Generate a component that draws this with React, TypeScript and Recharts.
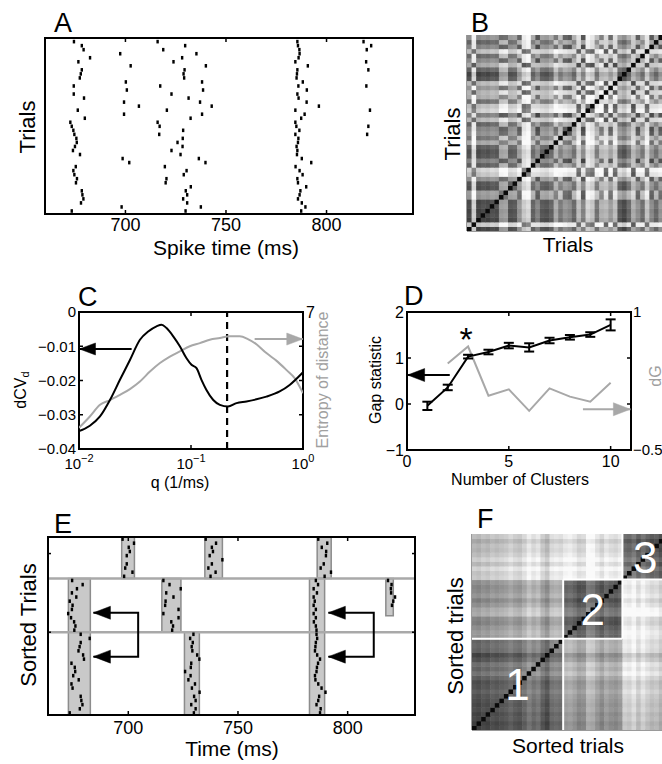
import React from 'react';
import { ComposedChart, Scatter, Line, XAxis, YAxis, ReferenceArea, ReferenceLine, ErrorBar } from 'recharts';

const FONT = '"Liberation Sans", Arial, Helvetica, sans-serif';
const W = 662;
const H = 764;
const GRAY = '#a8a8a8';

// ---------------- DATA ----------------
// Panel A: spike times per trial (index 0 = bottom trial)
const spikeTicks = [700, 750, 800];
const trialSpikes: number[][] = [
  [673.3, 729.9, 787.4],
  [698.1, 737.5, 789.5],
  [677.9, 730.7, 787.7],
  [679.1, 728.7, 785.8],
  [678.6, 730.7, 786.6],
  [678.3, 730.0, 787.0],
  [732.5, 789.9],
  [675.4, 720.0, 785.8],
  [675.9, 720.4, 785.5],
  [674.6, 729.0, 788.1],
  [674.1, 730.4, 786.6],
  [675.3, 719.6, 784.6],
  [701.9, 739.8, 792.4],
  [698.6, 736.5, 787.7],
  [677.4, 727.4, 785.3],
  [673.9, 722.9, 785.5],
  [674.9, 728.4, 785.1],
  [675.8, 725.9, 785.8],
  [675.6, 728.5, 786.0],
  [674.6, 716.8, 784.5, 820.2],
  [674.1, 728.7, 786.5],
  [673.3, 717.0, 785.0, 820.8],
  [672.6, 716.0, 784.5],
  [679.8, 732.4, 787.4],
  [699.3, 738.1, 789.1],
  [676.3, 720.6, 784.5, 821.6],
  [706.7, 742.9, 796.2],
  [699.3, 737.1, 790.1],
  [679.4, 731.4, 786.1],
  [674.3, 722.9, 785.5],
  [700.7, 738.6, 790.2],
  [674.3, 717.3, 786.0, 819.8],
  [700.2, 738.1, 788.2],
  [677.3, 729.2, 785.1],
  [677.8, 728.9, 785.3],
  [678.3, 729.4, 785.5, 820.8],
  [702.6, 740.0, 790.7],
  [676.6, 723.9, 784.5, 819.7],
  [682.4, 728.2, 786.1],
  [697.4, 735.3, 786.6],
  [679.2, 718.8, 786.5, 820.0],
  [678.3, 729.7, 785.8, 822.2],
  [674.4, 716.0, 785.5, 818.4],
];

// Cluster membership (trial indices), in sorted order bottom -> top
const cluster1Trials = [0, 2, 3, 4, 5, 6, 9, 10, 14, 16, 17, 18, 20, 23, 28, 33, 34, 35, 38, 41];
const cluster2Trials = [7, 8, 11, 15, 22, 29, 19, 21, 25, 31, 37, 40, 42];
const cluster3Trials = [1, 12, 13, 24, 26, 27, 30, 32, 36, 39];

// Panel C
const qTicks = [0.01, 0.1, 1];
const dcvQ = [0.01, 0.0125, 0.0154, 0.0189, 0.0232, 0.0285, 0.035, 0.0415, 0.0492, 0.0545, 0.0605, 0.0694, 0.0795, 0.0912, 0.101, 0.112, 0.124, 0.137, 0.158, 0.181, 0.214, 0.255, 0.313, 0.384, 0.471, 0.619, 0.76, 1.0];
const dcvValues = [-0.0348, -0.0332, -0.0305, -0.0257, -0.0198, -0.014, -0.0081, -0.0057, -0.0042, -0.0037, -0.0047, -0.0071, -0.01, -0.0135, -0.0154, -0.0164, -0.0198, -0.0227, -0.0257, -0.0271, -0.0276, -0.0266, -0.0261, -0.0255, -0.0247, -0.0232, -0.0213, -0.0176];
const entropyQ = [0.01, 0.0125, 0.0154, 0.0189, 0.0232, 0.0285, 0.035, 0.043, 0.0528, 0.0648, 0.0795, 0.0976, 0.12, 0.147, 0.181, 0.222, 0.272, 0.322, 0.384, 0.471, 0.578, 0.71, 0.842, 1.0];
const entropyValues = [3.62, 3.95, 4.29, 4.43, 4.58, 4.75, 4.97, 5.26, 5.51, 5.7, 5.85, 6.0, 6.09, 6.19, 6.24, 6.29, 6.29, 6.21, 6.06, 5.8, 5.58, 5.31, 5.07, 4.63];
const chosenQ = 0.21;

// Panel D
const clusterCounts = [1, 2, 3, 4, 5, 6, 7, 8, 9, 10];
const gapValues = [-0.04, 0.36, 1.03, 1.13, 1.27, 1.23, 1.38, 1.45, 1.51, 1.72];
const gapErrors = [0.09, 0.06, 0.04, 0.05, 0.06, 0.09, 0.06, 0.05, 0.05, 0.12];
const dGCounts = [2, 3, 4, 5, 6, 7, 8, 9, 10];
const dGValues = [0.44, 0.625, 0.09, 0.16, -0.075, 0.17, 0.08, 0.025, 0.23];

// Panel E: event windows (ms) per cluster group
const eventWindows = [
  { t0: 697.0, t1: 702.8, clusters: [3] },
  { t0: 734.9, t1: 742.9, clusters: [3] },
  { t0: 786.1, t1: 792.5, clusters: [3] },
  { t0: 672.7, t1: 682.7, clusters: [1, 2] },
  { t0: 782.6, t1: 789.5, clusters: [1, 2] },
  { t0: 715.3, t1: 724.0, clusters: [2] },
  { t0: 817.4, t1: 820.8, clusters: [2], rows: [23.5, 32.5] },
  { t0: 725.6, t1: 732.4, clusters: [1] },
];

// Similarity matrices: gray level per cluster pair and per-trial tone
const blockTone = [
  [100, 155, 195],
  [155, 90, 215],
  [195, 215, 80],
];
const trialTone = [-15, 20, -20, -10, -15, -5, -10, 10, 15, -5, 0, 5, 15, 30, 10, -10, 0, -5, 10, 25, 30, 5, -5, 15, 5, -10, 25, 10, 25, 30, 0, 10, 5, 0, -15, 15, -10, 0, 20, 10, -5, 15, 5];

// ---------------- DERIVED ----------------
const clusterLists = [cluster1Trials, cluster2Trials, cluster3Trials];
const sortedTrials = [...cluster1Trials, ...cluster2Trials, ...cluster3Trials];
const nTrials = trialSpikes.length;
const clusterOf: number[] = [];
clusterLists.forEach((list, ci) => list.forEach((t) => { clusterOf[t] = ci + 1; }));
const eRowOf: number[] = [];
sortedTrials.forEach((t, row) => { eRowOf[t] = row; });
const clusterRows: number[][] = [];
{
  let start = -0.5;
  clusterLists.forEach((l) => { clusterRows.push([start, start + l.length]); start += l.length; });
}

const spikePointsA = trialSpikes.flatMap((ts, trial) => ts.map((t) => ({ t, trial })));
const spikePointsE: { t: number; y: number }[] = [];
trialSpikes.forEach((ts, trial) => ts.forEach((t) => {
  const c = clusterOf[trial];
  if (eventWindows.some((w) => w.clusters.includes(c) && t >= w.t0 - 1 && t <= w.t1 + 1)) {
    spikePointsE.push({ t, y: eRowOf[trial] });
  }
}));

const level = (i: number, j: number) => {
  if (i === j) return 10;
  const v = blockTone[clusterOf[i] - 1][clusterOf[j] - 1] + 1.1 * (trialTone[i] + trialTone[j]);
  return Math.round(Math.max(0, Math.min(250, v)));
};
const matrixB: { x: number; y: number; v: number }[] = [];
const matrixF: { x: number; y: number; v: number }[] = [];
for (let i = 0; i < nTrials; i++) {
  for (let j = 0; j < nTrials; j++) {
    matrixB.push({ x: j, y: i, v: level(i, j) });
    matrixF.push({ x: j, y: i, v: level(sortedTrials[i], sortedTrials[j]) });
  }
}
const clusterLabels = clusterLists.map((l, ci) => {
  const c = (clusterRows[ci][0] + clusterRows[ci][1]) / 2;
  return { x: c, y: c, label: String(ci + 1) };
});

const dcvData = dcvQ.map((q, i) => ({ q, v: dcvValues[i] }));
const entropyData = entropyQ.map((q, i) => ({ q, e: entropyValues[i] }));
const gapData = clusterCounts.map((k, i) => ({ k, g: gapValues[i], err: gapErrors[i] }));
const dGData = dGCounts.map((k, i) => ({ k, d: dGValues[i] }));

// ---------------- HELPERS ----------------
// every chart has four 1px axes; margins put the plot box at L..R, T..B
const m = (L: number, R: number, T: number, B: number, w = W) => ({ left: L - 1, right: w - R - 1, top: T - 1, bottom: H - B - 1 });
const ax: any = { tickSize: 0, tickMargin: 0, tickLine: false, axisLine: false, allowDataOverflow: true, interval: 0, type: 'number' };

const tk = (side: string, len: number, label?: (v: number) => any, fs = 16, off = 0) => (p: any) => {
  const v = p.payload.value;
  const x = p.x;
  const y = p.y;
  let l: number[] = [x, y, x, y];
  let txt: any = null;
  const lab = label ? label(v) : null;
  if (side === 'bottom') {
    l = [x, y, x, y - len];
    if (lab !== null) txt = <text x={x} y={y + off} textAnchor="middle" fontSize={fs} fontFamily={FONT} fill="#000">{lab}</text>;
  } else if (side === 'top') {
    l = [x, y, x, y + len];
  } else if (side === 'left') {
    l = [x, y, x + len, y];
    if (lab !== null) txt = <text x={x - off} y={y} dy="0.36em" textAnchor="end" fontSize={fs} fontFamily={FONT} fill="#000">{lab}</text>;
  } else {
    l = [x, y, x - len, y];
    if (lab !== null) txt = <text x={x + off} y={y} dy="0.36em" textAnchor="start" fontSize={fs} fontFamily={FONT} fill="#000">{lab}</text>;
  }
  return (
    <g>
      {len > 0 && <line x1={l[0]} y1={l[1]} x2={l[2]} y2={l[3]} stroke="#000" strokeWidth={1.5} />}
      {txt}
    </g>
  );
};

const arrowDot = (dir: 'left' | 'right', color: string, len: number, half: number, heads: number[]) => (p: any) => {
  if (!heads.includes(p.index) || p.cx == null) return <g key={`a${p.index}`} />;
  const s = dir === 'left' ? 1 : -1;
  const pts = `${p.cx},${p.cy} ${p.cx + s * len},${p.cy - half} ${p.cx + s * len},${p.cy + half}`;
  return <polygon key={`a${p.index}`} points={pts} fill={color} stroke={color} strokeWidth={0.5} />;
};

const spikeShape = (p: any) => <rect x={p.cx - 1.2} y={p.cy - 1.8} width={2.4} height={3.6} fill="#000" />;
const cellPx = 196 / 43;
const matrixShape = (p: any) => {
  const v = p.payload.v;
  return <rect x={p.cx - cellPx / 2} y={p.cy - cellPx / 2} width={cellPx + 0.5} height={cellPx + 0.5} fill={`rgb(${v},${v},${v})`} />;
};
const numberShape = (p: any) => (
  <text x={p.cx} y={p.cy} dy="0.36em" textAnchor="middle" fontSize={44} fontFamily={FONT} fill="#fff">{p.payload.label}</text>
);

const abs = (el: any) => <div style={{ position: 'absolute', left: 0, top: 0 }}>{el}</div>;
const minus = (v: number, d: number) => (v < 0 ? `\u2212${Math.abs(v).toFixed(d)}` : v.toFixed(d));

// ---------------- PANELS ----------------
function PanelA() {
  const dom = [660, 843];
  const ydom = [-0.75, 42.9];
  return (
    <ComposedChart width={W} height={H} margin={m(45, 413, 38, 214)}>
      <XAxis {...ax} xAxisId="b" dataKey="t" domain={dom} height={1} ticks={spikeTicks} tick={tk('bottom', 4, (v) => String(v), 18, 17)} />
      <XAxis {...ax} xAxisId="t" orientation="top" dataKey="t" domain={dom} height={1} ticks={spikeTicks} tick={tk('top', 4)} />
      <YAxis {...ax} yAxisId="l" dataKey="trial" domain={ydom} width={1} tick={false} />
      <YAxis {...ax} yAxisId="r" orientation="right" dataKey="trial" domain={ydom} width={1} tick={false} />
      <ReferenceArea xAxisId="b" yAxisId="l" x1={dom[0]} x2={dom[1]} y1={ydom[0]} y2={ydom[1]} fill="none" stroke="#000" strokeWidth={2} />
      <Scatter xAxisId="b" yAxisId="l" data={spikePointsA} shape={spikeShape} isAnimationActive={false} />
    </ComposedChart>
  );
}

function MatrixPanel({ data, L, T }: { data: any[]; L: number; T: number }) {
  const dom = [-0.5, nTrials - 0.5];
  return (
    <ComposedChart width={700} height={H} margin={m(L, L + 196, T, T + 196, 700)}>
      <XAxis {...ax} xAxisId="b" dataKey="x" domain={dom} height={1} tick={false} />
      <XAxis {...ax} xAxisId="t" orientation="top" dataKey="x" domain={dom} height={1} tick={false} />
      <YAxis {...ax} yAxisId="l" dataKey="y" domain={dom} width={1} tick={false} />
      <YAxis {...ax} yAxisId="r" orientation="right" dataKey="y" domain={dom} width={1} tick={false} />
      <Scatter xAxisId="b" yAxisId="l" data={data} shape={matrixShape} isAnimationActive={false} />
      <ReferenceLine xAxisId="b" yAxisId="l" segment={[{ x: dom[0], y: dom[0] }, { x: dom[1], y: dom[0] }]} stroke="#9a9a9a" strokeWidth={2} />
      <ReferenceLine xAxisId="b" yAxisId="l" segment={[{ x: dom[0], y: dom[0] }, { x: dom[0], y: dom[1] }]} stroke="#9a9a9a" strokeWidth={2} />
    </ComposedChart>
  );
}

function FOverlay() {
  const dom = [-0.5, nTrials - 0.5];
  const b1 = clusterRows[0][1];
  const b2 = clusterRows[1][1];
  const lo = dom[0];
  const hi = dom[1];
  const segs = [
    [{ x: b1, y: lo }, { x: b1, y: b2 }],
    [{ x: lo, y: b1 }, { x: b2, y: b1 }],
    [{ x: b2, y: b1 }, { x: b2, y: hi }],
    [{ x: b1, y: b2 }, { x: hi, y: b2 }],
  ];
  return (
    <ComposedChart width={700} height={H} margin={m(472, 668, 534, 730, 700)}>
      <XAxis {...ax} xAxisId="b" dataKey="x" domain={dom} height={1} tick={false} />
      <XAxis {...ax} xAxisId="t" orientation="top" dataKey="x" domain={dom} height={1} tick={false} />
      <YAxis {...ax} yAxisId="l" dataKey="y" domain={dom} width={1} tick={false} />
      <YAxis {...ax} yAxisId="r" orientation="right" dataKey="y" domain={dom} width={1} tick={false} />
      {segs.map((s, i) => (
        <ReferenceLine key={i} xAxisId="b" yAxisId="l" segment={s} stroke="#fff" strokeWidth={2} />
      ))}
      <Scatter xAxisId="b" yAxisId="l" data={clusterLabels} shape={numberShape} isAnimationActive={false} />
    </ComposedChart>
  );
}

const logLabel = (v: number) => {
  const e = Math.round(Math.log10(v));
  return (
    <>
      <tspan>10</tspan>
      <tspan dy={-7} fontSize={11}>{e < 0 ? `\u2212${-e}` : String(e)}</tspan>
    </>
  );
};

function PanelC() {
  const xd = [0.01, 1];
  return (
    <ComposedChart width={W} height={H} margin={m(79, 303, 312, 449)}>
      <XAxis {...ax} xAxisId="b" dataKey="q" scale="log" domain={xd} height={1} ticks={qTicks} tick={tk('bottom', 4, logLabel, 15, 20)} />
      <XAxis {...ax} xAxisId="t" orientation="top" dataKey="q" scale="log" domain={xd} height={1} ticks={qTicks} tick={tk('top', 4)} />
      <YAxis {...ax} yAxisId="l" domain={[-0.04, 0]} width={1} ticks={[-0.04, -0.03, -0.02, -0.01, 0]} tick={tk('left', 4, (v) => (v === 0 ? '0' : minus(v, 2)), 15, 3)} />
      <YAxis {...ax} yAxisId="r" orientation="right" domain={[3, 7]} width={1} ticks={[4, 5, 6, 7]} tick={tk('right', 4, (v) => (v === 7 ? '7' : null), 16, 3)} />
      <ReferenceArea xAxisId="b" yAxisId="l" x1={xd[0]} x2={xd[1]} y1={-0.04} y2={0} fill="none" stroke="#000" strokeWidth={2} />
      <ReferenceLine xAxisId="b" yAxisId="l" x={chosenQ} stroke="#000" strokeWidth={2.2} strokeDasharray="7 5" />
      <Line xAxisId="b" yAxisId="r" data={entropyData} dataKey="e" type="monotone" stroke={GRAY} strokeWidth={2} dot={false} activeDot={false} isAnimationActive={false} />
      <Line xAxisId="b" yAxisId="l" data={dcvData} dataKey="v" type="monotone" stroke="#000" strokeWidth={2} dot={false} activeDot={false} isAnimationActive={false} />
      <Line xAxisId="b" yAxisId="l" data={[{ q: 0.0295, v: -0.0108 }, { q: 0.0101, v: -0.0108 }]} dataKey="v" stroke="#000" strokeWidth={2} dot={arrowDot('left', '#000', 16, 6, [1])} activeDot={false} isAnimationActive={false} />
      <Line xAxisId="b" yAxisId="r" data={[{ q: 0.37, e: 6.21 }, { q: 0.995, e: 6.21 }]} dataKey="e" stroke={GRAY} strokeWidth={2} dot={arrowDot('right', GRAY, 16, 6, [1])} activeDot={false} isAnimationActive={false} />
    </ComposedChart>
  );
}

function PanelD() {
  const xd = [0, 11];
  return (
    <ComposedChart width={W} height={H} margin={m(407, 631, 312, 450)}>
      <XAxis {...ax} xAxisId="b" dataKey="k" domain={xd} height={1} ticks={[0, 5, 10]} tick={tk('bottom', 4, (v) => String(v), 16, 17)} />
      <XAxis {...ax} xAxisId="t" orientation="top" dataKey="k" domain={xd} height={1} ticks={[5, 10]} tick={tk('top', 4)} />
      <YAxis {...ax} yAxisId="l" domain={[-1, 2]} width={1} ticks={[-1, 0, 1, 2]} tick={tk('left', 4, (v) => minus(v, 0), 16, 3)} />
      <YAxis {...ax} yAxisId="r" orientation="right" domain={[-0.5, 1]} width={1} ticks={[-0.5, 0, 0.5, 1]} tick={tk('right', 4, (v) => (v === 1 ? '1' : v === -0.5 ? '\u22120.5' : null), 15, 2)} />
      <ReferenceArea xAxisId="b" yAxisId="l" x1={xd[0]} x2={xd[1]} y1={-1} y2={2} fill="none" stroke="#000" strokeWidth={2} />
      <Line xAxisId="b" yAxisId="r" data={dGData} dataKey="d" type="linear" stroke={GRAY} strokeWidth={2} dot={false} activeDot={false} isAnimationActive={false} />
      <Line xAxisId="b" yAxisId="l" data={gapData} dataKey="g" type="linear" stroke="#000" strokeWidth={2} dot={false} activeDot={false} isAnimationActive={false}>
        <ErrorBar dataKey="err" width={5} stroke="#000" strokeWidth={2} direction="y" isAnimationActive={false} />
      </Line>
      <Line xAxisId="b" yAxisId="l" data={[{ k: 2.1, g: 0.63 }, { k: 0.03, g: 0.63 }]} dataKey="g" stroke="#000" strokeWidth={2} dot={arrowDot('left', '#000', 17, 6.5, [1])} activeDot={false} isAnimationActive={false} />
      <Line xAxisId="b" yAxisId="r" data={[{ k: 8.64, d: -0.057 }, { k: 10.97, d: -0.057 }]} dataKey="d" stroke={GRAY} strokeWidth={2} dot={arrowDot('right', GRAY, 17, 6.5, [1])} activeDot={false} isAnimationActive={false} />
    </ComposedChart>
  );
}

const eDom = [663.4, 830.7];
const eYDom = [-0.5, nTrials - 0.5];

function PanelEUnder() {
  const rowsFor = (cl: number[]) => [clusterRows[Math.min(...cl) - 1][0], clusterRows[Math.max(...cl) - 1][1]];
  return (
    <ComposedChart width={W} height={H} margin={m(48, 415, 537, 715)}>
      <XAxis {...ax} xAxisId="b" dataKey="t" domain={eDom} height={1} tick={false} />
      <XAxis {...ax} xAxisId="t" orientation="top" dataKey="t" domain={eDom} height={1} tick={false} />
      <YAxis {...ax} yAxisId="l" dataKey="y" domain={eYDom} width={1} tick={false} />
      <YAxis {...ax} yAxisId="r" orientation="right" dataKey="y" domain={eYDom} width={1} tick={false} />
      {eventWindows.map((w, i) => {
        const r = (w as any).rows || rowsFor(w.clusters);
        return <ReferenceArea key={i} xAxisId="b" yAxisId="l" x1={w.t0} x2={w.t1} y1={r[0]} y2={r[1]} fill="#c9c9c9" fillOpacity={1} stroke="#8c8c8c" strokeWidth={1.5} />;
      })}
      {clusterRows.slice(0, 2).map((r, i) => (
        <ReferenceLine key={`s${i}`} xAxisId="b" yAxisId="l" y={r[1]} stroke="#a9a9a9" strokeWidth={2.5} />
      ))}
    </ComposedChart>
  );
}

function PanelEOver() {
  const left = [{ t: 684.1, y: 24.2 }, { t: 704.5, y: 24.2 }, { t: 704.5, y: 13.6 }, { t: 684.1, y: 13.6 }];
  const right = [{ t: 791.2, y: 24.2 }, { t: 811.9, y: 24.2 }, { t: 811.9, y: 13.6 }, { t: 791.2, y: 13.6 }];
  return (
    <ComposedChart width={W} height={H} margin={m(48, 415, 537, 715)}>
      <XAxis {...ax} xAxisId="b" dataKey="t" domain={eDom} height={1} ticks={spikeTicks} tick={tk('bottom', 4, (v) => String(v), 18, 19)} />
      <XAxis {...ax} xAxisId="t" orientation="top" dataKey="t" domain={eDom} height={1} ticks={spikeTicks} tick={tk('top', 4)} />
      <YAxis {...ax} yAxisId="l" dataKey="y" domain={eYDom} width={1} ticks={[19.5, 38.5]} tick={tk('left', 3)} />
      <YAxis {...ax} yAxisId="r" orientation="right" dataKey="y" domain={eYDom} width={1} ticks={[19.5, 38.5]} tick={tk('right', 3)} />
      <ReferenceArea xAxisId="b" yAxisId="l" x1={eDom[0]} x2={eDom[1]} y1={eYDom[0]} y2={eYDom[1]} fill="none" stroke="#000" strokeWidth={2} />
      <Scatter xAxisId="b" yAxisId="l" data={spikePointsE} shape={spikeShape} isAnimationActive={false} />
      <Line xAxisId="b" yAxisId="l" data={left} dataKey="y" stroke="#000" strokeWidth={2} dot={arrowDot('left', '#000', 17, 6.5, [0, 3])} activeDot={false} isAnimationActive={false} />
      <Line xAxisId="b" yAxisId="l" data={right} dataKey="y" stroke="#000" strokeWidth={2} dot={arrowDot('left', '#000', 17, 6.5, [0, 3])} activeDot={false} isAnimationActive={false} />
    </ComposedChart>
  );
}

function Labels() {
  const txt = (x: number, y: number, s: any, fs: number, anchor = 'start', fill = '#000') => (
    <text x={x} y={y} fontSize={fs} fontFamily={FONT} textAnchor={anchor} fill={fill}>{s}</text>
  );
  const rot = (cx: number, cy: number, s: any, fs: number, fill = '#000') => (
    <text transform={`translate(${cx},${cy}) rotate(-90)`} textAnchor="middle" dominantBaseline="central" fontSize={fs} fontFamily={FONT} fill={fill}>{s}</text>
  );
  return (
    <svg width={W} height={H} style={{ position: 'absolute', left: 0, top: 0 }}>
      {txt(54, 32, 'A', 27)}
      {rot(27, 127, 'Trials', 22)}
      {txt(226, 255, 'Spike time (ms)', 21, 'middle')}
      {txt(471, 32, 'B', 27)}
      {rot(452, 134, 'Trials', 22)}
      {txt(568, 252, 'Trials', 21, 'middle')}
      {txt(78, 306, 'C', 27)}
      {rot(20, 390, <>dCV<tspan fontSize={11} dy={5}>d</tspan></>, 16)}
      {rot(322, 380, 'Entropy of distance', 16, '#a0a0a0')}
      {txt(180, 488, 'q (1/ms)', 16, 'middle')}
      {txt(404, 305, 'D', 27)}
      {rot(375, 380, 'Gap statistic', 16)}
      {rot(655, 376, 'dG', 16, '#a0a0a0')}
      {txt(520, 485, 'Number of Clusters', 16, 'middle')}
      {txt(466, 351, '*', 34, 'middle')}
      {txt(54, 533, 'E', 27)}
      {rot(28, 625, 'Sorted Trials', 22)}
      {txt(232, 756, 'Time (ms)', 21, 'middle')}
      {txt(477, 528, 'F', 27)}
      {rot(455, 636, 'Sorted trials', 22)}
      {txt(568, 753, 'Sorted trials', 21, 'middle')}
    </svg>
  );
}

export default function App() {
  return (
    <div style={{ position: 'absolute', left: 0, top: 0, width: W, height: H, overflow: 'hidden', background: '#fff', fontFamily: FONT }}>
      {abs(<PanelA />)}
      {abs(<MatrixPanel data={matrixB} L={467} T={35} />)}
      {abs(<PanelC />)}
      {abs(<PanelD />)}
      {abs(<PanelEUnder />)}
      {abs(<PanelEOver />)}
      {abs(<MatrixPanel data={matrixF} L={472} T={534} />)}
      {abs(<FOverlay />)}
      <Labels />
    </div>
  );
}
